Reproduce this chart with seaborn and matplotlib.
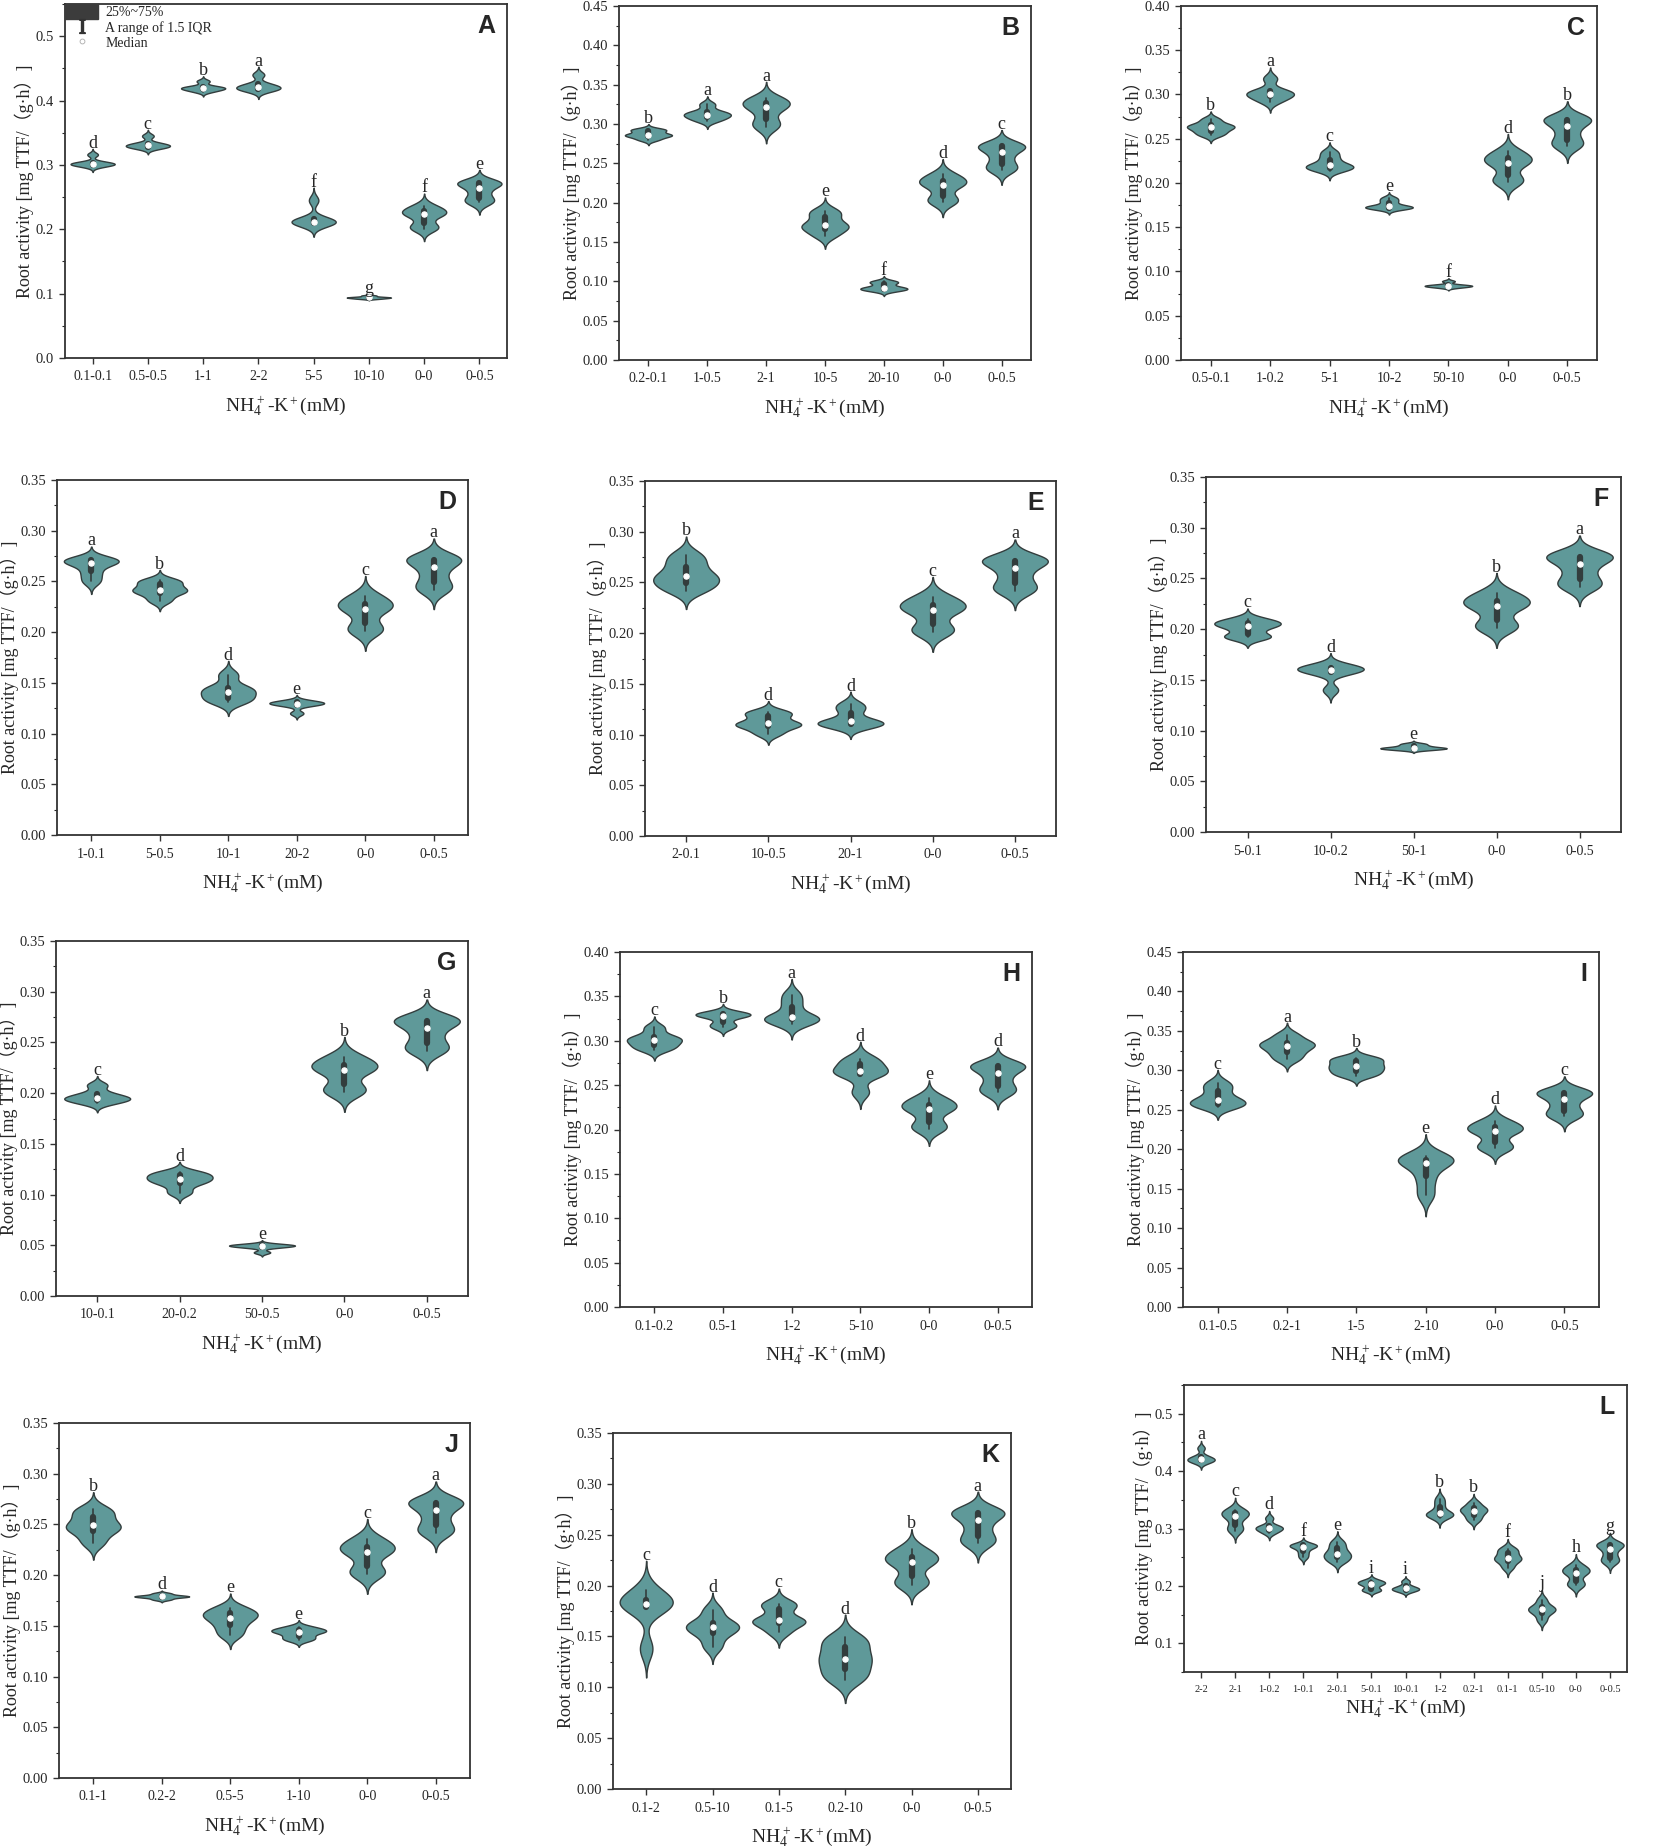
import numpy as np
import pandas as pd
import matplotlib
matplotlib.use("Agg")
import matplotlib.pyplot as plt
import seaborn as sns
from matplotlib.collections import PolyCollection
from matplotlib.lines import Line2D
from matplotlib.patches import Patch
from matplotlib.ticker import MultipleLocator, AutoMinorLocator, FormatStrFormatter

# control treatments, the same in every panel
CTRL_0_0 = [0.201, 0.205, 0.221, 0.225, 0.229, 0.236]
CTRL_0_05 = [0.242, 0.246, 0.258, 0.270, 0.272, 0.273]

A_labels = ["0.1-0.1", "0.5-0.5", "1-1", "2-2", "5-5", "10-10", "0-0", "0-0.5"]
A_values = [[0.298, 0.300, 0.302, 0.302, 0.304, 0.316],
            [0.326, 0.328, 0.330, 0.331, 0.334, 0.345],
            [0.414, 0.417, 0.419, 0.420, 0.422, 0.430],
            [0.415, 0.418, 0.420, 0.422, 0.426, 0.440],
            [0.208, 0.210, 0.211, 0.213, 0.216, 0.245],
            [0.092, 0.093, 0.094, 0.094, 0.095, 0.097],
            CTRL_0_0, CTRL_0_05]
A_letters = ["d", "c", "b", "a", "f", "g", "f", "e"]

B_labels = ["0.2-0.1", "1-0.5", "2-1", "10-5", "20-10", "0-0", "0-0.5"]
B_values = [[0.280, 0.284, 0.286, 0.287, 0.292, 0.293],
            [0.304, 0.308, 0.311, 0.313, 0.316, 0.325],
            [0.296, 0.303, 0.318, 0.324, 0.328, 0.333],
            [0.158, 0.166, 0.170, 0.174, 0.184, 0.190],
            [0.088, 0.090, 0.091, 0.093, 0.098, 0.100],
            CTRL_0_0, CTRL_0_05]
B_letters = ["b", "a", "a", "e", "f", "d", "c"]

C_labels = ["0.5-0.1", "1-0.2", "5-1", "10-2", "50-10", "0-0", "0-0.5"]
C_values = [[0.254, 0.258, 0.262, 0.264, 0.266, 0.272],
            [0.292, 0.297, 0.300, 0.302, 0.305, 0.318],
            [0.214, 0.217, 0.219, 0.221, 0.228, 0.235],
            [0.171, 0.172, 0.173, 0.174, 0.179, 0.183],
            [0.082, 0.083, 0.084, 0.084, 0.085, 0.089],
            CTRL_0_0, CTRL_0_05]
C_letters = ["b", "a", "c", "e", "f", "d", "b"]

D_labels = ["1-0.1", "5-0.5", "10-1", "20-2", "0-0", "0-0.5"]
D_values = [[0.250, 0.258, 0.266, 0.270, 0.271, 0.272],
            [0.231, 0.238, 0.241, 0.243, 0.249, 0.251],
            [0.131, 0.134, 0.139, 0.143, 0.146, 0.158],
            [0.120, 0.128, 0.129, 0.130, 0.131, 0.132],
            CTRL_0_0, CTRL_0_05]
D_letters = ["a", "b", "d", "e", "c", "a"]

E_labels = ["2-0.1", "10-0.5", "20-1", "0-0", "0-0.5"]
E_values = [[0.242, 0.248, 0.254, 0.258, 0.268, 0.277],
            [0.101, 0.108, 0.110, 0.112, 0.120, 0.122],
            [0.108, 0.110, 0.112, 0.114, 0.124, 0.130],
            CTRL_0_0, CTRL_0_05]
E_letters = ["b", "d", "d", "c", "a"]

F_labels = ["5-0.1", "10-0.2", "50-1", "0-0", "0-0.5"]
F_values = [[0.192, 0.193, 0.201, 0.205, 0.206, 0.210],
            [0.140, 0.157, 0.159, 0.161, 0.162, 0.164],
            [0.081, 0.082, 0.083, 0.083, 0.085, 0.087],
            CTRL_0_0, CTRL_0_05]
F_letters = ["c", "d", "e", "b", "a"]

G_labels = ["10-0.1", "20-0.2", "50-0.5", "0-0", "0-0.5"]
G_values = [[0.190, 0.193, 0.195, 0.196, 0.200, 0.208],
            [0.102, 0.110, 0.114, 0.116, 0.120, 0.122],
            [0.043, 0.048, 0.049, 0.050, 0.050, 0.051],
            CTRL_0_0, CTRL_0_05]
G_letters = ["c", "d", "e", "b", "a"]

H_labels = ["0.1-0.2", "0.5-1", "1-2", "5-10", "0-0", "0-0.5"]
H_values = [[0.290, 0.294, 0.299, 0.302, 0.305, 0.315],
            [0.315, 0.319, 0.327, 0.329, 0.330, 0.332],
            [0.319, 0.324, 0.325, 0.328, 0.341, 0.352],
            [0.242, 0.262, 0.264, 0.267, 0.276, 0.280],
            CTRL_0_0, CTRL_0_05]
H_letters = ["c", "b", "a", "d", "e", "d"]

I_labels = ["0.1-0.5", "0.2-1", "1-5", "2-10", "0-0", "0-0.5"]
I_values = [[0.254, 0.256, 0.261, 0.265, 0.276, 0.284],
            [0.314, 0.322, 0.329, 0.333, 0.336, 0.345],
            [0.293, 0.298, 0.303, 0.307, 0.313, 0.316],
            [0.142, 0.162, 0.180, 0.186, 0.187, 0.192],
            CTRL_0_0, CTRL_0_05]
I_letters = ["c", "a", "b", "e", "d", "c"]

J_labels = ["0.1-1", "0.2-2", "0.5-5", "1-10", "0-0", "0-0.5"]
J_values = [[0.232, 0.243, 0.247, 0.251, 0.260, 0.265],
            [0.176, 0.178, 0.179, 0.179, 0.180, 0.182],
            [0.141, 0.149, 0.156, 0.160, 0.163, 0.168],
            [0.136, 0.139, 0.143, 0.145, 0.146, 0.149],
            CTRL_0_0, CTRL_0_05]
J_letters = ["b", "d", "e", "e", "c", "a"]

K_labels = ["0.1-2", "0.5-10", "0.1-5", "0.2-10", "0-0", "0-0.5"]
K_values = [[0.138, 0.178, 0.180, 0.184, 0.186, 0.196],
            [0.140, 0.152, 0.157, 0.161, 0.164, 0.176],
            [0.154, 0.163, 0.165, 0.167, 0.180, 0.182],
            [0.107, 0.115, 0.125, 0.131, 0.142, 0.149],
            CTRL_0_0, CTRL_0_05]
K_letters = ["c", "d", "c", "d", "b", "a"]

# panel L gathers the best treatment of each panel
L_labels = ["2-2", "2-1", "1-0.2", "1-0.1", "2-0.1", "5-0.1", "10-0.1",
            "1-2", "0.2-1", "0.1-1", "0.5-10", "0-0", "0-0.5"]
L_values = [A_values[3], B_values[2], C_values[1], D_values[0], E_values[0],
            F_values[0], G_values[0], H_values[2], I_values[1], J_values[0],
            K_values[1], CTRL_0_0, CTRL_0_05]
L_letters = ["a", "c", "d", "f", "e", "i", "i", "b", "b", "f", "j", "h", "g"]

FILL = "#5f9999"
EDGE = "#333d3d"
SERIF = ["Liberation Serif", "Noto Sans CJK SC"]
W, H = 1654, 1848


def long_table(labels, values):
    rows = [(lab, v) for lab, vals in zip(labels, values) for v in vals]
    return pd.DataFrame(rows, columns=["group", "value"])


def draw_panel(fig, rect, name, labels, values, letters, ylim, step, fmt,
               xsize=10, legend=False):
    left, top, right, bottom = rect
    ax = fig.add_axes([left / W, 1 - bottom / H, (right - left) / W, (bottom - top) / H])
    df = long_table(labels, values)
    sns.violinplot(data=df, x="group", y="value", order=labels, color=FILL,
                   saturation=1, linecolor=EDGE, linewidth=1.0,
                   density_norm="width", width=0.8, inner="box",
                   bw_adjust=0.72, cut=2.8,
                   inner_kws=dict(box_width=4.5, whis_width=1.2, marker="o"),
                   ax=ax)
    # significance letters just above each violin
    polys = [c for c in ax.collections if isinstance(c, PolyCollection)]
    for i, (poly, let) in enumerate(zip(polys, letters)):
        ytop = poly.get_paths()[0].vertices[:, 1].max()
        ax.text(i, ytop - (ylim[1] - ylim[0]) * 0.008, let, ha="center", va="bottom",
                fontsize=13, family=SERIF)
    ax.set_ylim(*ylim)
    ax.set_xlim(-0.5, len(labels) - 0.5)
    ax.yaxis.set_major_locator(MultipleLocator(step))
    ax.yaxis.set_minor_locator(AutoMinorLocator(2))
    ax.yaxis.set_major_formatter(FormatStrFormatter(fmt))
    ax.tick_params(axis="both", which="major", direction="out", length=4,
                   width=1, color="#333333", labelsize=10.5, pad=4)
    ax.tick_params(axis="x", labelsize=xsize, pad=5)
    ax.tick_params(axis="y", which="minor", direction="out", length=2.5, width=0.8)
    for sp in ax.spines.values():
        sp.set_visible(True)
        sp.set_linewidth(1.3)
        sp.set_color("#333333")
    ax.set_xlabel(r"$\mathrm{NH_4^{\,+}}$-$\mathrm{K^+}$(mM)", fontsize=14, labelpad=8)
    ax.set_ylabel("Root activity [mg TTF/（g·h）]", fontsize=13, labelpad=1,
                  family=SERIF)
    ax.text(1 - 12 / (right - left), 1 - 10 / (bottom - top), name,
            transform=ax.transAxes, ha="right", va="top", fontsize=18,
            fontweight="bold", family="Liberation Sans")
    if legend:
        handles = [Patch(facecolor="#3c3c3c", edgecolor="#3c3c3c"),
                   Line2D([], [], linestyle="none", marker=r"$\mathrm{I}$",
                          markersize=10, color="#333333"),
                   Line2D([], [], linestyle="none", marker="o", markersize=3.5,
                          markerfacecolor="white", markeredgecolor="#aaaaaa",
                          markeredgewidth=0.6)]
        ax.legend(handles, ["25%~75%", "A range of 1.5 IQR", "Median"],
                  loc="upper left", bbox_to_anchor=(0, 1), borderaxespad=0,
                  borderpad=0.0, frameon=False, fontsize=10,
                  handlelength=2.4, handleheight=1.25, labelspacing=0.05,
                  handletextpad=0.5)
    return ax


def main():
    sns.set_style("ticks")
    plt.rcParams["font.family"] = SERIF
    plt.rcParams["mathtext.fontset"] = "custom"
    plt.rcParams["mathtext.rm"] = "Liberation Serif"
    plt.rcParams["mathtext.it"] = "Liberation Serif:italic"
    plt.rcParams["axes.unicode_minus"] = False

    fig = plt.figure(figsize=(W / 100, H / 100), dpi=100)
    fig.patch.set_facecolor("white")

    draw_panel(fig, (65, 4, 507, 358), "A", A_labels, A_values, A_letters,
               (0, 0.55), 0.1, "%.1f", legend=True)
    draw_panel(fig, (619, 6, 1031, 360), "B", B_labels, B_values, B_letters,
               (0, 0.45), 0.05, "%.2f")
    draw_panel(fig, (1181, 6, 1597, 360), "C", C_labels, C_values, C_letters,
               (0, 0.40), 0.05, "%.2f")
    draw_panel(fig, (57, 480, 468, 835), "D", D_labels, D_values, D_letters,
               (0, 0.35), 0.05, "%.2f")
    draw_panel(fig, (645, 481, 1056, 836), "E", E_labels, E_values, E_letters,
               (0, 0.35), 0.05, "%.2f")
    draw_panel(fig, (1206, 477, 1621, 832), "F", F_labels, F_values, F_letters,
               (0, 0.35), 0.05, "%.2f")
    draw_panel(fig, (56, 941, 468, 1296), "G", G_labels, G_values, G_letters,
               (0, 0.35), 0.05, "%.2f")
    draw_panel(fig, (620, 952, 1032, 1307), "H", H_labels, H_values, H_letters,
               (0, 0.40), 0.05, "%.2f")
    draw_panel(fig, (1183, 952, 1599, 1307), "I", I_labels, I_values, I_letters,
               (0, 0.45), 0.05, "%.2f")
    draw_panel(fig, (59, 1423, 470, 1778), "J", J_labels, J_values, J_letters,
               (0, 0.35), 0.05, "%.2f")
    draw_panel(fig, (613, 1433, 1011, 1789), "K", K_labels, K_values, K_letters,
               (0, 0.35), 0.05, "%.2f")
    ax = draw_panel(fig, (1184, 1385, 1627, 1672), "L", L_labels, L_values, L_letters,
                    (0.05, 0.55), 0.1, "%.1f", xsize=7.5)
    ax.xaxis.labelpad = 2

    fig.savefig("out.png", dpi=100, facecolor="white")


if __name__ == "__main__":
    main()
